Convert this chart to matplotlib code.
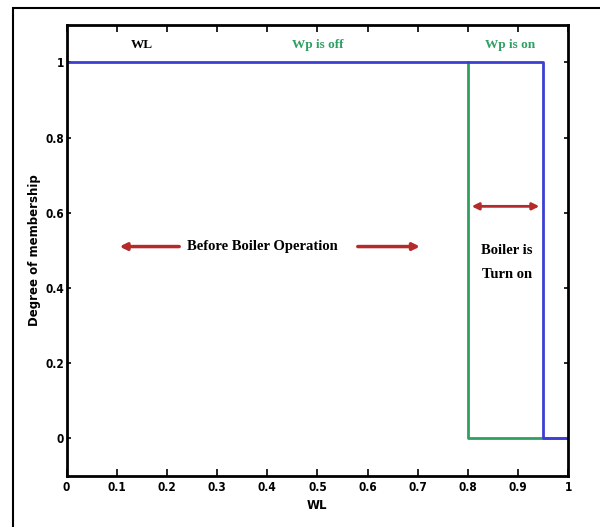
import matplotlib.pyplot as plt
from matplotlib.patches import Rectangle

# membership functions
wl_x = [0, 0.95, 0.95, 1.0]
wl_y = [1, 1, 0, 0]
wp_x = [0.8, 0.8, 1.0]
wp_y = [1, 0, 0]

xticks = [0, 0.1, 0.2, 0.3, 0.4, 0.5, 0.6, 0.7, 0.8, 0.9, 1]
xticklabels = ["0", "0.1", "0.2", "0.3", "0.4", "0.5", "0.6", "0.7", "0.8", "0.9", "1"]
yticks = [0, 0.2, 0.4, 0.6, 0.8, 1]
yticklabels = ["0", "0.2", "0.4", "0.6", "0.8", "1"]

blue = "#3c3fd2"
green = "#2f9f62"
red = "#b52a2a"

fig = plt.figure(figsize=(6, 5.27), dpi=100)
ax = fig.add_axes([0.111, 0.097, 0.836, 0.856])

ax.plot(wp_x, wp_y, color=green, lw=2)
ax.plot(wl_x, wl_y, color=blue, lw=2)

ax.set_xlim(0, 1)
ax.set_ylim(-0.1, 1.1)
ax.set_xticks(xticks)
ax.set_xticklabels(xticklabels)
ax.set_yticks(yticks)
ax.set_yticklabels(yticklabels)
ax.tick_params(direction="in", top=True, right=True, length=5, width=1.2,
               labelsize=8.5, pad=4)
ax.tick_params(axis="y", length=3, pad=2)
for lab in ax.get_xticklabels() + ax.get_yticklabels():
    lab.set_fontweight("bold")
    lab.set_fontstretch("condensed")
for s in ax.spines.values():
    s.set_linewidth(2)

ax.set_xlabel("WL", fontsize=8.5, fontweight="bold", labelpad=3)
ax.set_ylabel("Degree of membership", fontsize=8.5, fontweight="bold", labelpad=3)

serif = "Liberation Serif"
ax.text(0.15, 1.045, "WL", fontsize=9.5, fontweight="bold", family=serif, ha="center", va="center")
ax.text(0.5, 1.045, "Wp is off", fontsize=9.5, fontweight="bold", family=serif,
        color=green, ha="center", va="center")
ax.text(0.885, 1.045, "Wp is on", fontsize=9.5, fontweight="bold", family=serif,
        color=green, ha="center", va="center")

ax.text(0.39, 0.51, "Before Boiler Operation", fontsize=10.5, fontweight="bold",
        family=serif, ha="center", va="center")
ax.annotate("", xy=(0.10, 0.51), xytext=(0.23, 0.51),
            arrowprops=dict(arrowstyle="-|>", color=red, lw=2.5, mutation_scale=10))
ax.annotate("", xy=(0.71, 0.51), xytext=(0.575, 0.51),
            arrowprops=dict(arrowstyle="-|>", color=red, lw=2.5, mutation_scale=10))
ax.annotate("", xy=(0.802, 0.617), xytext=(0.948, 0.617),
            arrowprops=dict(arrowstyle="<|-|>", color=red, lw=2, mutation_scale=10))
ax.text(0.878, 0.468, "Boiler is\nTurn on", fontsize=10.5, fontweight="bold",
        family=serif, ha="center", va="center", linespacing=2.1)

# outer frame (cropped at right and bottom)
fig.patches.append(Rectangle((0.0217, -0.1), 1.2, 1.085, transform=fig.transFigure,
                             fill=False, lw=1.5, ec="black"))

fig.savefig("out.png")
